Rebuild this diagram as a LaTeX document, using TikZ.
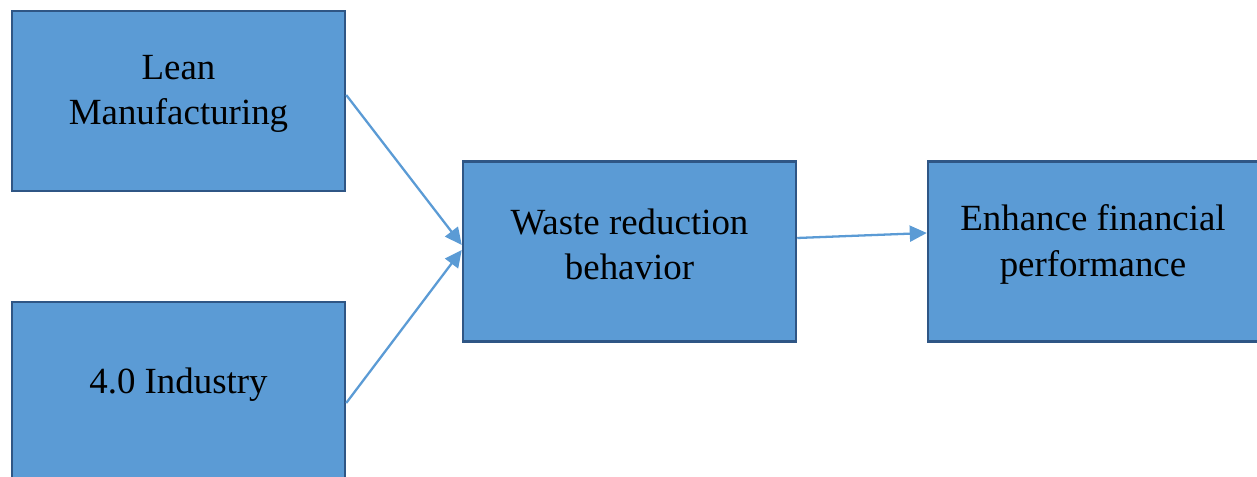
\documentclass[tikz,border=0pt]{standalone}
\usepackage{fontspec}
\setmainfont{Liberation Serif}
\usetikzlibrary{arrows.meta}
\definecolor{boxfill}{HTML}{5B9BD5}
\definecolor{boxline}{HTML}{2F5685}
\tikzset{
  block/.style={draw=boxline, fill=boxfill, line width=1.4pt, minimum height=3.6cm},
  blocktext/.style={align=center, font=\fontsize{21}{26}\selectfont, yshift=1.4mm},
  link/.style={draw=boxfill, line width=1.3pt, -{Triangle[length=3.4mm,width=3.2mm]}}
}
\begin{document}
\begin{tikzpicture}
	\useasboundingbox (0,0) rectangle (25.14,9.54);
	
	% Boxes
	\node[block, minimum width=6.66cm] (lean) at (3.57,7.52) {};
	\node[block, minimum width=6.66cm] (industry) at (3.57,1.7) {};
	\node[block, minimum width=6.66cm] (waste) at (12.59,4.51) {};
	\node[block, minimum width=6.6cm] (finance) at (21.86,4.51) {};
	
	% Box texts
	\node[blocktext] (leantxt) at (lean.center) {Lean\\Manufacturing};
	\node[blocktext] (industrytxt) at (industry.center) {4.0 Industry};
	\node[blocktext] (wastetxt) at (waste.center) {Waste reduction\\behavior};
	\node[blocktext] (financetxt) at (finance.center) {Enhance financial\\performance};
	
	% Arrows
	\draw[link] ([yshift=1.2mm]lean.east) -- ([yshift=1.3mm]waste.west);
	\draw[link] ([yshift=-2.2mm]industry.east) -- ([yshift=0.3mm]waste.west);
	\draw[link] ([yshift=2.7mm]waste.east) -- ([yshift=3.7mm]finance.west);
	
\end{tikzpicture}
\end{document}
